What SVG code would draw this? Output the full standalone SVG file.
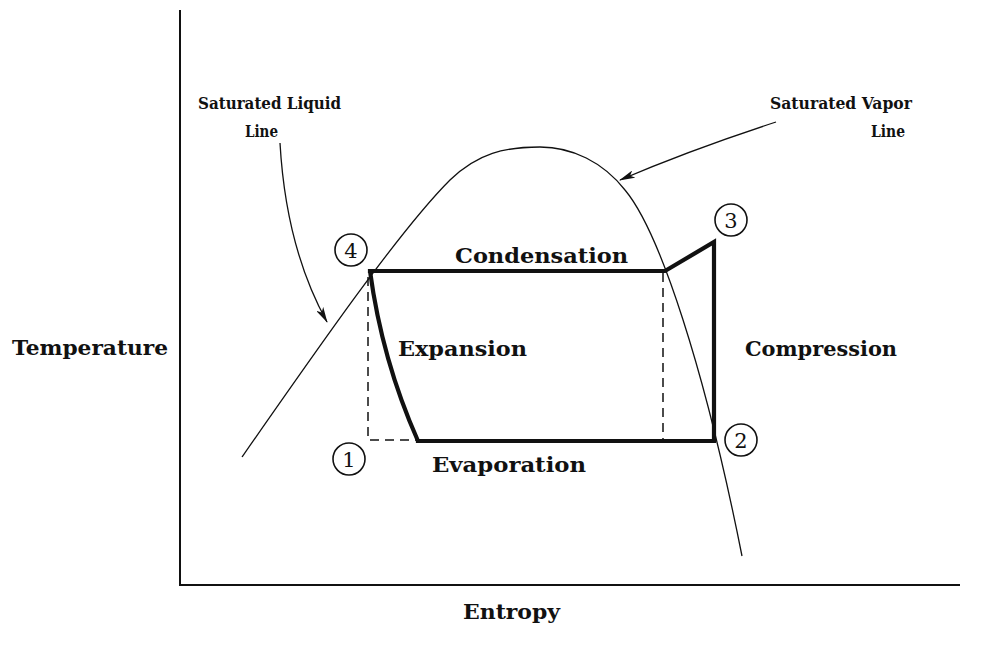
<svg xmlns="http://www.w3.org/2000/svg" width="990" height="654" viewBox="0 0 990 654">
<defs>
<style>
.lbl{font-family:"DejaVu Serif","Liberation Serif",serif;font-weight:bold;font-size:21px;fill:#111}
.sat{font-family:"DejaVu Serif","Liberation Serif",serif;font-weight:bold;font-size:17.5px;fill:#111}
.num{font-family:"DejaVu Serif","Liberation Serif",serif;font-size:21px;fill:#111;text-anchor:middle}
.ring{fill:none;stroke:#111;stroke-width:1.6}
.thin{fill:none;stroke:#111;stroke-width:1.3}
.thick{fill:none;stroke:#111;stroke-width:4.2;stroke-linejoin:miter;stroke-linecap:square}
.dash{fill:none;stroke:#111;stroke-width:1.5;stroke-dasharray:9 6}
.axis{fill:none;stroke:#111;stroke-width:2}
</style>
<marker id="arr" viewBox="0 0 16 8" refX="15" refY="4" markerWidth="16" markerHeight="8" markerUnits="userSpaceOnUse" orient="auto">
<path d="M0,0 L16,4 L0,8 L4,4 Z" fill="#111"/>
</marker>
</defs>
<rect width="990" height="654" fill="#fff"/>
<g id="axes">
<path class="axis" d="M180,10 V585 H960"/>
</g>
<g id="dome">
<path class="thin" d="M242,457 C320,345 400,230 450,180 C478,153 505,147 540,147 C572,147 603,162 625,190 C660,232 705,370 742,556"/>
</g>
<g id="connectors">
<path class="thin" d="M280,143 Q286,248 327,322" marker-end="url(#arr)"/>
<path class="thin" d="M776,122 Q690,150 620,180" marker-end="url(#arr)"/>
<path class="dash" d="M368,277 V440 H418"/>
<path class="dash" d="M663,273 V440"/>
</g>
<g id="cycle">
<path class="thick" d="M370,271 H665 L714,242 V441 H418"/>
<path class="thick" style="stroke-linecap:butt" d="M370,271 Q382,360 418,441"/>
</g>
<g id="state-4"><circle class="ring" cx="351" cy="250" r="16"/><text class="num" x="351" y="258">4</text></g>
<g id="state-1"><circle class="ring" cx="349" cy="459" r="16"/><text class="num" x="349" y="467">1</text></g>
<g id="state-3"><circle class="ring" cx="731" cy="220" r="16"/><text class="num" x="731" y="228">3</text></g>
<g id="state-2"><circle class="ring" cx="741" cy="440" r="16"/><text class="num" x="741" y="448">2</text></g>
<g id="labels">
<text class="sat" x="198" y="109" textLength="143" lengthAdjust="spacingAndGlyphs">Saturated Liquid</text>
<text class="sat" x="245" y="137" textLength="33" lengthAdjust="spacingAndGlyphs">Line</text>
<text class="sat" x="770" y="109" textLength="142" lengthAdjust="spacingAndGlyphs">Saturated Vapor</text>
<text class="sat" x="871" y="137" textLength="34" lengthAdjust="spacingAndGlyphs">Line</text>
<text class="lbl" x="455" y="263" textLength="173" lengthAdjust="spacingAndGlyphs">Condensation</text>
<text class="lbl" x="398" y="356" textLength="129" lengthAdjust="spacingAndGlyphs">Expansion</text>
<text class="lbl" x="745" y="356" textLength="152" lengthAdjust="spacingAndGlyphs">Compression</text>
<text class="lbl" x="12" y="355" textLength="156" lengthAdjust="spacingAndGlyphs">Temperature</text>
<text class="lbl" x="432" y="472" textLength="154" lengthAdjust="spacingAndGlyphs">Evaporation</text>
<text class="lbl" x="463" y="619" textLength="97" lengthAdjust="spacingAndGlyphs">Entropy</text>
</g>
</svg>
